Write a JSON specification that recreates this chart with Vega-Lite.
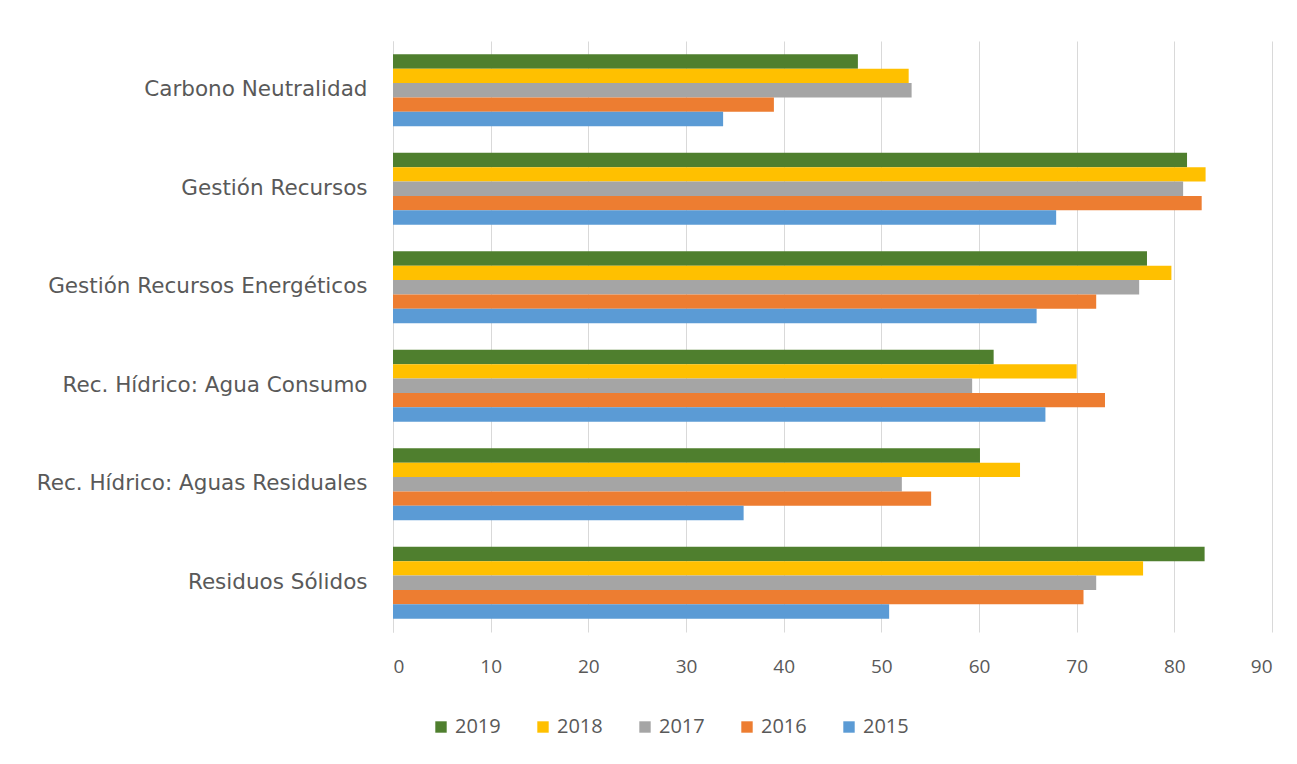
{
  "$schema": "https://vega.github.io/schema/vega-lite/v6.json",
  "width": 879,
  "height": 591,
  "autosize": {"type": "none"},
  "padding": {"left": 393, "top": 41, "right": 25, "bottom": 132},
  "background": "white",
  "data": {
    "values": [
      {"cat": "Carbono Neutralidad", "year": "2019", "v": 47.6},
      {"cat": "Carbono Neutralidad", "year": "2018", "v": 52.8},
      {"cat": "Carbono Neutralidad", "year": "2017", "v": 53.1},
      {"cat": "Carbono Neutralidad", "year": "2016", "v": 39.0},
      {"cat": "Carbono Neutralidad", "year": "2015", "v": 33.8},
      {"cat": "Gestión Recursos", "year": "2019", "v": 81.3},
      {"cat": "Gestión Recursos", "year": "2018", "v": 83.2},
      {"cat": "Gestión Recursos", "year": "2017", "v": 80.9},
      {"cat": "Gestión Recursos", "year": "2016", "v": 82.8},
      {"cat": "Gestión Recursos", "year": "2015", "v": 67.9},
      {"cat": "Gestión Recursos Energéticos", "year": "2019", "v": 77.2},
      {"cat": "Gestión Recursos Energéticos", "year": "2018", "v": 79.7},
      {"cat": "Gestión Recursos Energéticos", "year": "2017", "v": 76.4},
      {"cat": "Gestión Recursos Energéticos", "year": "2016", "v": 72.0},
      {"cat": "Gestión Recursos Energéticos", "year": "2015", "v": 65.9},
      {"cat": "Rec. Hídrico: Agua Consumo", "year": "2019", "v": 61.5},
      {"cat": "Rec. Hídrico: Agua Consumo", "year": "2018", "v": 70.0},
      {"cat": "Rec. Hídrico: Agua Consumo", "year": "2017", "v": 59.3},
      {"cat": "Rec. Hídrico: Agua Consumo", "year": "2016", "v": 72.9},
      {"cat": "Rec. Hídrico: Agua Consumo", "year": "2015", "v": 66.8},
      {"cat": "Rec. Hídrico: Aguas Residuales", "year": "2019", "v": 60.1},
      {"cat": "Rec. Hídrico: Aguas Residuales", "year": "2018", "v": 64.2},
      {"cat": "Rec. Hídrico: Aguas Residuales", "year": "2017", "v": 52.1},
      {"cat": "Rec. Hídrico: Aguas Residuales", "year": "2016", "v": 55.1},
      {"cat": "Rec. Hídrico: Aguas Residuales", "year": "2015", "v": 35.9},
      {"cat": "Residuos Sólidos", "year": "2019", "v": 83.1},
      {"cat": "Residuos Sólidos", "year": "2018", "v": 76.8},
      {"cat": "Residuos Sólidos", "year": "2017", "v": 72.0},
      {"cat": "Residuos Sólidos", "year": "2016", "v": 70.7},
      {"cat": "Residuos Sólidos", "year": "2015", "v": 50.8}
    ]
  },
  "mark": {"type": "bar"},
  "encoding": {
    "y": {
      "field": "cat",
      "type": "nominal",
      "sort": null,
      "title": null,
      "scale": {"paddingInner": 0.27, "paddingOuter": 0.135},
      "axis": {
        "domain": true,
        "domainColor": "#d9d9d9",
        "ticks": false,
        "labelPadding": 26,
        "labelLimit": 0,
        "labelFont": "DejaVu Sans",
        "labelFontSize": 21.5,
        "labelColor": "#595959",
        "grid": false
      }
    },
    "x": {
      "field": "v",
      "type": "quantitative",
      "title": null,
      "scale": {"domain": [0, 90], "nice": false},
      "axis": {
        "values": [0, 10, 20, 30, 40, 50, 60, 70, 80, 90],
        "domain": false,
        "ticks": false,
        "grid": true,
        "gridColor": "#d9d9d9",
        "labelPadding": 25,
        "labelFont": "Open Sans",
        "labelFontSize": 19,
        "labelColor": "#595959"
      }
    },
    "yOffset": {
      "field": "year",
      "type": "nominal",
      "sort": ["2019", "2018", "2017", "2016", "2015"],
      "scale": {"paddingInner": 0, "paddingOuter": 0}
    },
    "color": {
      "field": "year",
      "type": "nominal",
      "sort": ["2019", "2018", "2017", "2016", "2015"],
      "scale": {
        "domain": ["2019", "2018", "2017", "2016", "2015"],
        "range": ["#4f7f2e", "#ffc000", "#a5a5a5", "#ed7d31", "#5b9bd5"]
      },
      "legend": {
        "title": null,
        "orient": "none",
        "direction": "horizontal",
        "legendX": 38,
        "legendY": 676,
        "symbolType": "square",
        "symbolSize": 130,
        "symbolStrokeWidth": 0,
        "labelFont": "Open Sans",
        "labelFontSize": 20,
        "labelColor": "#595959",
        "columnPadding": 32,
        "labelOffset": 4
      }
    }
  },
  "config": {"view": {"stroke": null}}
}
